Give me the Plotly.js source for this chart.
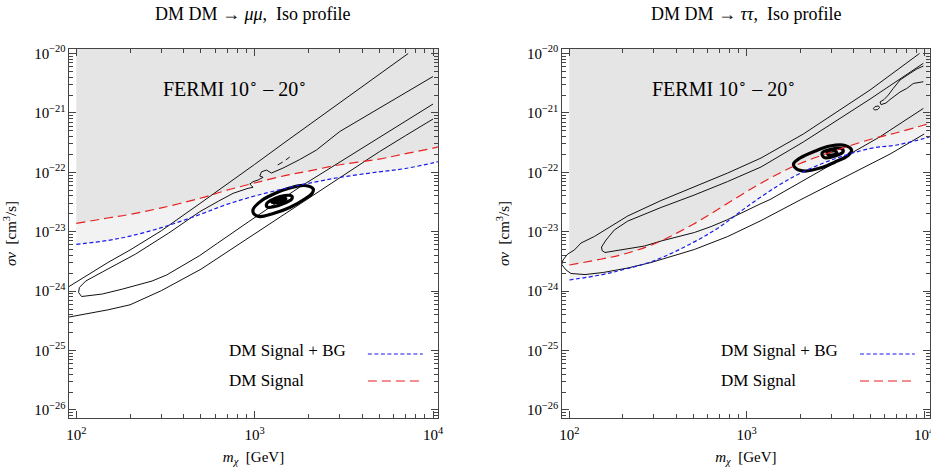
<!DOCTYPE html>
<html><head><meta charset="utf-8">
<script src="https://cdn.plot.ly/plotly-3.0.1.min.js"></script>
<style>html,body{margin:0;padding:0;background:#fff}#chart{width:931px;height:467px}</style>
</head><body><div id="chart"></div>
<script>
// ---------- shared ----------
const massGrid = [100,150,200,300,500,700,1000,1500,2000,3000,5000,7000,10000,10700];
const exclTopM = [100,10700];
const exclTopSv = [1e-19,1e-19];

// ---------- left panel: DM DM -> mu mu ----------
const muSignal   = [1.38e-23,1.70e-23,1.96e-23,2.52e-23,3.69e-23,5.01e-23,6.61e-23,8.87e-23,1.05e-22,1.34e-22,1.67e-22,2.06e-22,2.55e-22,2.70e-22];
const muSignalBG = [6.14e-24,7.13e-24,8.43e-24,1.17e-23,1.98e-23,2.89e-23,3.99e-23,5.40e-23,6.53e-23,8.20e-23,1.02e-22,1.16e-22,1.44e-22,1.51e-22];

const muOuterUpperM  = [90,100,120,150,200,300,500,700,1000,1500,2000,3000,5000,7260];
const muOuterUpperSv = [1.17e-24,1.43e-24,2.01e-24,3.02e-24,4.92e-24,1.04e-23,3.07e-23,6.28e-23,1.36e-22,3.31e-22,6.18e-22,1.49e-21,4.47e-21,1e-20];
const muOuterLowerM  = [90,100,150,200,300,500,700,1000,1500,2000,3000,5000,7000,10000];
const muOuterLowerSv = [3.64e-25,3.84e-25,4.83e-25,5.88e-25,1.02e-24,2.34e-24,4.57e-24,9.33e-24,2.08e-23,3.68e-23,8.17e-23,2.22e-22,4.13e-22,7.89e-22];
const muInnerM  = [10000,5020,3000,2220,1789,1443,1242,1165,1092,1068,1115,1045,980,939,980,918,757,629,492,330,215,140,113,104,103,107,118,140,181,266,321,410,492,621,754,927,1789,3966,10000];
const muInnerSv = [4.10e-21,1.21e-21,4.86e-22,2.37e-22,1.64e-22,1.18e-22,9.73e-23,1.09e-22,1.02e-22,8.66e-23,8.24e-23,7.42e-23,6.95e-23,6.35e-23,5.59e-23,5.38e-23,4.43e-23,3.29e-23,2.17e-23,9.51e-24,4.21e-24,2.10e-24,1.48e-24,1.15e-24,9.47e-25,8.11e-25,8.43e-25,8.94e-25,1.08e-24,1.48e-24,1.87e-24,2.86e-24,3.97e-24,6.45e-24,9.69e-24,1.48e-23,5.65e-23,2.54e-22,1.41e-21];
const muIslandM  = [1347,1437,null,1494,1573];
const muIslandSv = [1.33e-22,1.49e-22,null,1.61e-22,1.81e-22];
const muFitOuterM  = [2130,1909,1573,1296,1096,982,988,1068,1247,1573,1909,2102,2130];
const muFitOuterSv = [5.24e-23,6.00e-23,5.44e-23,4.40e-23,3.35e-23,2.41e-23,2.02e-23,1.80e-23,1.99e-23,2.56e-23,3.55e-23,4.48e-23,5.24e-23];
const muFitMidM  = [1614,1475,1296,1169,1177,1296,1475,1614,1614];
const muFitMidSv = [3.99e-23,4.07e-23,3.62e-23,2.98e-23,2.60e-23,2.66e-23,3.04e-23,3.55e-23,3.99e-23];
const muFitCoreM  = [1494,1347,1247,1313,1455,1494];
const muFitCoreSv = [3.62e-23,3.48e-23,3.16e-23,3.10e-23,3.29e-23,3.62e-23];

// ---------- right panel: DM DM -> tau tau ----------
const tauSignal   = [2.75e-24,3.44e-24,4.15e-24,6.21e-24,1.34e-23,2.45e-23,4.75e-23,9.40e-23,1.41e-22,2.20e-22,3.60e-22,4.64e-22,6.25e-22,6.64e-22];
const tauSignalBG = [1.54e-24,1.87e-24,2.29e-24,3.24e-24,6.61e-24,1.19e-23,2.62e-23,5.93e-23,9.62e-23,1.61e-22,2.53e-22,2.88e-22,3.71e-22,3.93e-22];

const tauOuterM  = [9410,4955,2084,1204,781,506.5,328.8,213.4,171.8,138.3,116.4,106.7,97.9,92.1,90.7,95.8,102.2,122.6,155.5,213.4,288.7,506.5,781,1204,1998,3582,6425,10000];
const tauOuterSv = [1.00e-20,2.43e-21,4.41e-22,1.74e-22,9.73e-23,5.77e-23,3.35e-23,1.84e-23,1.25e-23,8.30e-24,6.45e-24,4.92e-24,4.21e-24,3.34e-24,2.80e-24,2.27e-24,1.98e-24,1.90e-24,2.06e-24,2.45e-24,3.03e-24,5.02e-24,8.30e-24,1.54e-23,3.42e-23,8.33e-23,2.03e-22,4.41e-22];
const tauInnerM  = [9897,4955,2084,1204,781,506.5,328.8,213.4,179.3,161.1,151.9,152.9,158.9,213.4,264.8,328.8,506.5,629.3,781,1204,1353,2589,5641,9897];
const tauInnerSv = [6.84e-21,1.71e-21,3.24e-22,1.23e-22,7.00e-23,4.15e-23,2.56e-23,1.51e-23,1.07e-23,7.25e-24,5.53e-24,4.83e-24,4.47e-24,5.11e-24,5.74e-24,6.97e-24,9.69e-24,1.22e-23,1.60e-23,2.98e-23,3.48e-23,1.05e-22,3.97e-22,1.19e-21];
const tauStripM  = [9897,9085,8328,7313,6706,6283,5943,5641,5715,6098,6425,6855,7313,7979,8690,9897];
const tauStripSv = [6.16e-21,5.48e-21,4.64e-21,3.58e-21,2.60e-21,2.00e-21,1.68e-21,1.53e-21,1.38e-21,1.47e-21,1.68e-21,1.96e-21,2.25e-21,2.58e-21,3.13e-21,3.35e-21];
const tauIslandM  = [5172,5288,5533,5605,5461,5254,5172];
const tauIslandSv = [1.19e-21,1.28e-21,1.31e-21,1.23e-21,1.14e-21,1.12e-21,1.19e-21];
const tauFitOuterM  = [3897,3582,2949,2427,1998,1835,1897,2132,2589,3146,3724,3897];
const tauFitOuterSv = [2.37e-22,2.83e-22,2.77e-22,2.28e-22,1.74e-22,1.38e-22,1.16e-22,1.05e-22,1.18e-22,1.49e-22,1.92e-22,2.37e-22];
const tauFitMidM  = [3445,2949,2658,2728,3146,3490,3445];
const tauFitMidSv = [2.47e-22,2.42e-22,2.11e-22,1.78e-22,1.88e-22,2.20e-22,2.47e-22];
const tauFitCoreM  = [3146,2836,2910,3228,3146];
const tauFitCoreSv = [2.28e-22,2.15e-22,1.96e-22,2.07e-22,2.28e-22];

// ---------- text ----------
const panelTitles = ['DM DM \u2192 <i>\u03bc\u03bc</i>,\u00a0 Iso profile', 'DM DM \u2192 <i>\u03c4\u03c4</i>,\u00a0 Iso profile'];
const regionLabel = 'FERMI 10<sup>\u2218</sup> \u2013 20<sup>\u2218</sup>';
const legendLabels = ['DM Signal + BG', 'DM Signal'];
const xTitle = '<i>m</i><sub><i>\u03c7</i></sub>\u00a0\u00a0[GeV]';
const yTitle = '<i>\u03c3v</i>\u00a0\u00a0[cm<sup>3</sup>/s]';

const RED = 'rgb(232,30,30)', BLUE = 'rgb(25,25,235)';
const DARK = '#e5e5e5', LIGHT = '#f2f2f2';
const FONT = 'Liberation Serif, Times New Roman, serif';

function panel(xa, ya, sig, sigBG, lines, fits) {
  const tr = [];
  tr.push({x: massGrid, y: sigBG, xaxis: xa, yaxis: ya, mode: 'lines', line: {width: 0, shape: 'spline'}, hoverinfo: 'skip'});
  tr.push({x: massGrid, y: sig, xaxis: xa, yaxis: ya, mode: 'lines', line: {width: 0, shape: 'spline'}, fill: 'tonexty', fillcolor: LIGHT, hoverinfo: 'skip'});
  tr.push({x: exclTopM, y: exclTopSv, xaxis: xa, yaxis: ya, mode: 'lines', line: {width: 0}, fill: 'tonexty', fillcolor: DARK, hoverinfo: 'skip'});
  lines.forEach(l => tr.push({x: l[0], y: l[1], xaxis: xa, yaxis: ya, mode: 'lines', line: {color: '#111', width: 1}, connectgaps: false}));
  fits.forEach(l => tr.push({x: l[0], y: l[1], xaxis: xa, yaxis: ya, mode: 'lines', line: {color: '#000', width: 3.2, shape: 'spline'}}));
  tr.push({x: massGrid, y: sigBG, xaxis: xa, yaxis: ya, mode: 'lines', line: {color: BLUE, width: 1.2, dash: '4px,2.5px', shape: 'spline'}});
  tr.push({x: massGrid, y: sig, xaxis: xa, yaxis: ya, mode: 'lines', line: {color: RED, width: 1.2, dash: '9px,5px', shape: 'spline'}});
  return tr;
}

const data = [].concat(
  panel('x', 'y', muSignal, muSignalBG,
    [[muOuterUpperM, muOuterUpperSv], [muOuterLowerM, muOuterLowerSv], [muInnerM, muInnerSv], [muIslandM, muIslandSv]],
    [[muFitOuterM, muFitOuterSv], [muFitMidM, muFitMidSv], [muFitCoreM, muFitCoreSv]]),
  panel('x2', 'y2', tauSignal, tauSignalBG,
    [[tauOuterM, tauOuterSv], [tauInnerM, tauInnerSv], [tauStripM, tauStripSv], [tauIslandM, tauIslandSv]],
    [[tauFitOuterM, tauFitOuterSv], [tauFitMidM, tauFitMidSv], [tauFitCoreM, tauFitCoreSv]])
);

const W = 931, H = 467;
function xAxis(dom, anchor, range) {
  return {type: 'log', domain: dom, anchor: anchor, range: range, dtick: 1, exponentformat: 'power',
    ticks: 'inside', ticklen: 7, tickwidth: 1, tickcolor: '#444', showline: true, linecolor: '#444', linewidth: 1,
    mirror: 'ticks', showgrid: false, zeroline: false, tickfont: {family: FONT, size: 12, color: '#000'},
    ticklabeloverflow: 'allow', ticklabelstandoff: 4,
    minor: {ticks: 'inside', ticklen: 4, tickwidth: 1, tickcolor: '#444', dtick: 'D1', showgrid: false},
    title: {text: xTitle, font: {family: FONT, size: 15, color: '#000'}, standoff: 10}, automargin: false};
}
function yAxis(dom, anchor) {
  return {type: 'log', domain: dom, anchor: anchor, range: [-26.136, -19.924], dtick: 1, exponentformat: 'power',
    ticks: 'inside', ticklen: 7, tickwidth: 1, tickcolor: '#444', showline: true, linecolor: '#444', linewidth: 1,
    mirror: 'ticks', showgrid: false, zeroline: false, tickfont: {family: FONT, size: 12, color: '#000'},
    minor: {ticks: 'inside', ticklen: 4, tickwidth: 1, tickcolor: '#444', dtick: 'D1', showgrid: false},
    title: {text: yTitle, font: {family: FONT, size: 15, color: '#000'}, standoff: 13}, automargin: false};
}
const yDom = [1 - 418 / H, 1 - 49 / H];
const xDom1 = [69 / W, 438 / W], xDom2 = [561.7 / W, 930 / W];

const ann = [];
[[xDom1, 'x', 'y'], [xDom2, 'x2', 'y2']].forEach((p, i) => {
  ann.push({text: panelTitles[i], xref: 'paper', yref: 'paper', x: (p[0][0] + p[0][1]) / 2, y: 1 - 14 / H,
    xanchor: 'center', yanchor: 'middle', showarrow: false, font: {family: FONT, size: 18, color: '#000'}});
  ann.push({text: regionLabel, xref: p[1] + ' domain', yref: p[2] + ' domain', x: i === 0 ? 0.45 : 0.44, y: (418 - 88) / 369,
    xanchor: 'center', yanchor: 'middle', showarrow: false, font: {family: FONT, size: 20, color: '#000'}});
  ann.push({text: legendLabels[0], xref: p[1] + ' domain', yref: p[2] + ' domain', x: 0.428, y: (418 - 350) / 369,
    xanchor: 'left', yanchor: 'middle', showarrow: false, font: {family: FONT, size: 17, color: '#000'}});
  ann.push({text: legendLabels[1], xref: p[1] + ' domain', yref: p[2] + ' domain', x: 0.428, y: (418 - 380) / 369,
    xanchor: 'left', yanchor: 'middle', showarrow: false, font: {family: FONT, size: 17, color: '#000'}});
});
const shapes = [];
[['x', 'y'], ['x2', 'y2']].forEach(p => {
  shapes.push({type: 'line', xref: p[0] + ' domain', yref: p[1] + ' domain', x0: 0.81, x1: 0.959, y0: (418 - 354) / 369, y1: (418 - 354) / 369,
    line: {color: BLUE, width: 1.2, dash: '4px,2.5px'}});
  shapes.push({type: 'line', xref: p[0] + ' domain', yref: p[1] + ' domain', x0: 0.81, x1: 0.959, y0: (418 - 381) / 369, y1: (418 - 381) / 369,
    line: {color: RED, width: 1.2, dash: '9px,5px'}});
});

const layout = {
  width: W, height: H, margin: {l: 0, r: 0, t: 0, b: 0}, paper_bgcolor: '#fff', plot_bgcolor: '#fff',
  showlegend: false, hovermode: false,
  xaxis: xAxis(xDom1, 'y', [1.959, 4.028]),
  yaxis: yAxis(yDom, 'x'),
  xaxis2: xAxis(xDom2, 'y2', [1.957, 4.033]),
  yaxis2: yAxis(yDom, 'x2'),
  annotations: ann, shapes: shapes
};
Plotly.newPlot('chart', data, layout, {staticPlot: true, displayModeBar: false});
</script></body></html>
